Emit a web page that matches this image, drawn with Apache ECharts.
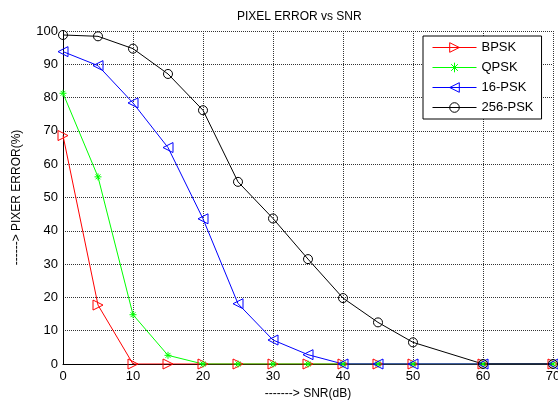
<!DOCTYPE html>
<html>
<head>
<meta charset="utf-8">
<script src="https://cdn.jsdelivr.net/npm/echarts@6/dist/echarts.min.js"></script>
<style>
html,body{margin:0;padding:0;background:#fff;}
#chart{width:558px;height:401px;}
</style>
</head>
<body>
<div id="chart"></div>
<script>
const snr = [0, 5, 10, 15, 20, 25, 30, 35, 40, 45, 50, 60, 70];
const bpsk = [68.6, 17.7, 0, 0, 0, 0, 0, 0, 0, 0, 0, 0, 0];
const qpsk = [81.3, 56.2, 14.8, 2.6, 0, 0, 0, 0, 0, 0, 0, 0, 0];
const psk16 = [93.8, 89.6, 78.4, 65, 43.6, 18.1, 7.2, 2.8, 0, 0, 0, 0, 0];
const psk256 = [98.8, 98.4, 94.7, 87.1, 76.2, 54.7, 43.7, 31.5, 19.8, 12.5, 6.5, 0, 0];
const seriesNames = ['BPSK', 'QPSK', '16-PSK', '256-PSK'];
const xTicks = [0, 10, 20, 30, 40, 50, 60, 70];

const font = 'Liberation Sans, Arial, Helvetica, sans-serif';
function pairs(vals) { return snr.map((x, i) => [x, vals[i]]); }
const star = 'path://M0,-10L0,10M-10,0L10,0M-7,-7L7,7M-7,7L7,-7';

function mk(name, vals, color, symbol, size, rotate) {
  return {
    name: name, type: 'line', data: pairs(vals),
    symbol: symbol, symbolSize: size, symbolRotate: rotate || 0,
    showAllSymbol: true,
    lineStyle: { color: color, width: 1 },
    itemStyle: { color: 'rgba(255,255,255,0)', borderColor: color, borderWidth: 1 },
    emphasis: { disabled: true },
    animation: false
  };
}

const chart = echarts.init(document.getElementById('chart'), null, { renderer: 'canvas' });
chart.setOption({
  backgroundColor: '#fff',
  animation: false,
  title: {
    text: 'PIXEL ERROR vs SNR', left: 232, top: 6,
    textStyle: { fontFamily: font, fontSize: 12, fontWeight: 'normal', color: '#000' }
  },
  legend: {
    orient: 'vertical', left: 423, top: 36,
    data: seriesNames,
    backgroundColor: '#fff', borderColor: '#000', borderWidth: 1,
    padding: [5, 8, 5, 9], itemWidth: 44, itemHeight: 12, itemGap: 7,
    lineStyle: { width: 1 },
    itemStyle: { borderWidth: 1 },
    textStyle: { fontFamily: font, fontSize: 13, color: '#000' }
  },
  grid: { left: 63, right: 5, top: 31, bottom: 37, containLabel: false, outerBoundsMode: 'none' },
  xAxis: {
    type: 'value', min: 0, max: 70, interval: 10,
    name: '-------> SNR(dB)', nameLocation: 'middle', nameGap: 23,
    nameTextStyle: { fontFamily: font, fontSize: 12, color: '#000' },
    axisLine: { show: true, lineStyle: { color: '#000' } },
    axisTick: { show: false },
    axisLabel: { fontFamily: font, fontSize: 13, color: '#000', margin: 6,
      formatter: v => xTicks.includes(v) ? String(v) : '' },
    splitLine: { show: true, lineStyle: { color: '#333', type: [1, 1], width: 1 } }
  },
  yAxis: {
    type: 'value', min: 0, max: 100, interval: 10,
    name: '------> PIXER ERROR(%)', nameLocation: 'middle', nameGap: 40, nameRotate: 90,
    nameTextStyle: { fontFamily: font, fontSize: 12, color: '#000' },
    axisLine: { show: true, lineStyle: { color: '#000' } },
    axisTick: { show: false },
    axisLabel: { fontFamily: font, fontSize: 13, color: '#000', margin: 5 },
    splitLine: { show: true, lineStyle: { color: '#333', type: [1, 1], width: 1 } }
  },
  series: [
    mk('BPSK', bpsk, '#ff0000', 'triangle', 10, -90),
    Object.assign(mk('QPSK', qpsk, '#00ff00', star, 7, 0), { itemStyle: { color: 'rgba(0,0,0,0)', borderColor: '#00ff00', borderWidth: 1 } }),
    mk('16-PSK', psk16, '#0000ff', 'triangle', 10, 90),
    mk('256-PSK', psk256, '#000000', 'circle', 9, 0)
  ]
});
</script>
</body>
</html>
